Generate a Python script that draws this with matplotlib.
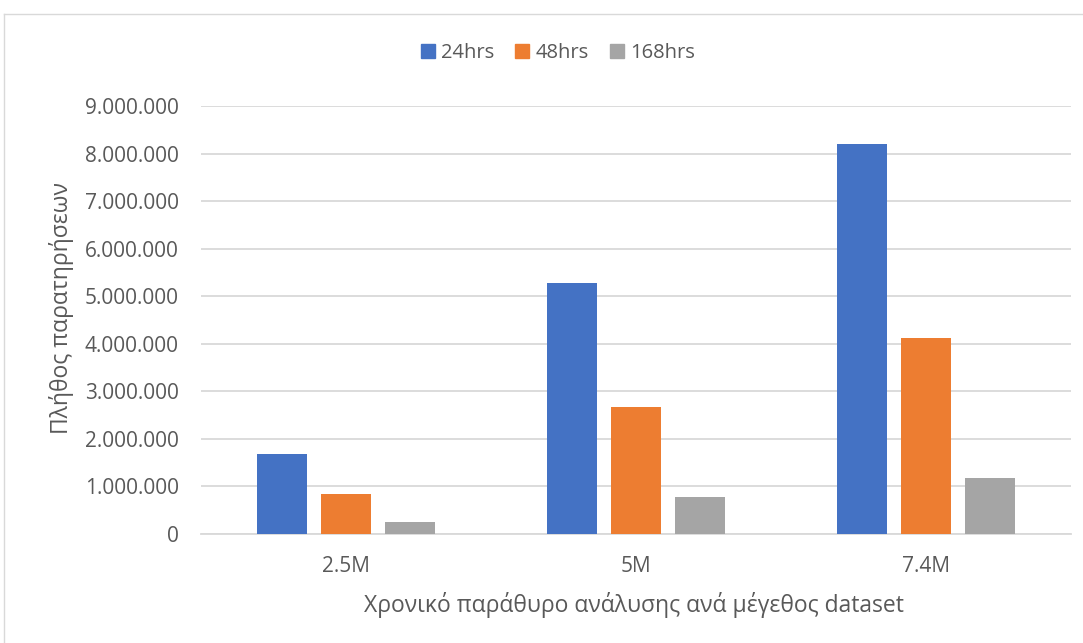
import matplotlib
matplotlib.use("Agg")
import matplotlib.pyplot as plt
from matplotlib.ticker import FuncFormatter, MultipleLocator
from matplotlib.lines import Line2D
import numpy as np

categories = ["2.5M", "5M", "7.4M"]
series_names = ["24hrs", "48hrs", "168hrs"]
values_24h = [1680000, 5285000, 8200000]
values_48h = [840000, 2668000, 4130000]
values_168h = [245000, 770000, 1176000]
colors = ["#4472C4", "#ED7D31", "#A5A5A5"]

text_color = "#595959"
grid_color = "#D9D9D9"
plt.rcParams["font.family"] = ["Open Sans", "DejaVu Sans"]

W, H = 1083, 643
fig = plt.figure(figsize=(W / 100, H / 100), dpi=100)

# plot area in pixel coordinates
left, right, top, bottom = 201, 1071, 106, 534
ax = fig.add_axes([left / W, 1 - bottom / H, (right - left) / W, (bottom - top) / H])

x = np.arange(len(categories))
width = 0.174
step = 0.22
for i, (name, vals) in enumerate(zip(series_names, [values_24h, values_48h, values_168h])):
    ax.bar(x + (i - 1) * step, vals, width, color=colors[i], label=name, zorder=3)

ax.set_xlim(-0.5, len(categories) - 0.5)
ax.set_ylim(0, 9000000)
ax.yaxis.set_major_locator(MultipleLocator(1000000))
ax.yaxis.set_major_formatter(FuncFormatter(lambda v, p: f"{int(v):,}".replace(",", ".")))
ax.grid(axis="y", color=grid_color, linewidth=1.3, zorder=0)
ax.set_axisbelow(True)
for s in ["top", "right", "left"]:
    ax.spines[s].set_visible(False)
ax.spines["bottom"].set_color(grid_color)
ax.spines["bottom"].set_linewidth(1.3)
ax.set_xticks(x)
ax.set_xticklabels(categories)
ax.tick_params(axis="both", length=0, labelsize=15, colors=text_color)
ax.tick_params(axis="y", pad=16)
ax.tick_params(axis="x", pad=16)

ax.set_xlabel("Χρονικό παράθυρο ανάλυσης ανά μέγεθος dataset", fontsize=16.5,
              color=text_color, va="center")
ax.xaxis.set_label_coords((634 - left) / (right - left), (bottom - 605) / (bottom - top))
ax.set_ylabel("Πλήθος παρατηρήσεων", fontsize=16.5, color=text_color, va="center")
ax.yaxis.set_label_coords((62 - left) / (right - left), (bottom - 308) / (bottom - top))

handles = [Line2D([0], [0], marker="s", linestyle="none", markersize=10,
                  markerfacecolor=c, markeredgecolor=c) for c in colors]
fig.legend(handles, series_names, loc="center", bbox_to_anchor=(556 / W, 1 - 53 / H),
           ncol=3, frameon=False, fontsize=14.5, labelcolor=text_color,
           handletextpad=0.15, columnspacing=0.9, handlelength=1.0)

# outer chart frame
fig.add_artist(Line2D([4 / W, 4 / W], [0, 1 - 14 / H], transform=fig.transFigure,
                      color="#D9D9D9", linewidth=1))
fig.add_artist(Line2D([4 / W, 1], [1 - 14 / H, 1 - 14 / H], transform=fig.transFigure,
                      color="#D9D9D9", linewidth=1))

fig.savefig("out.png", dpi=100, facecolor="white")
